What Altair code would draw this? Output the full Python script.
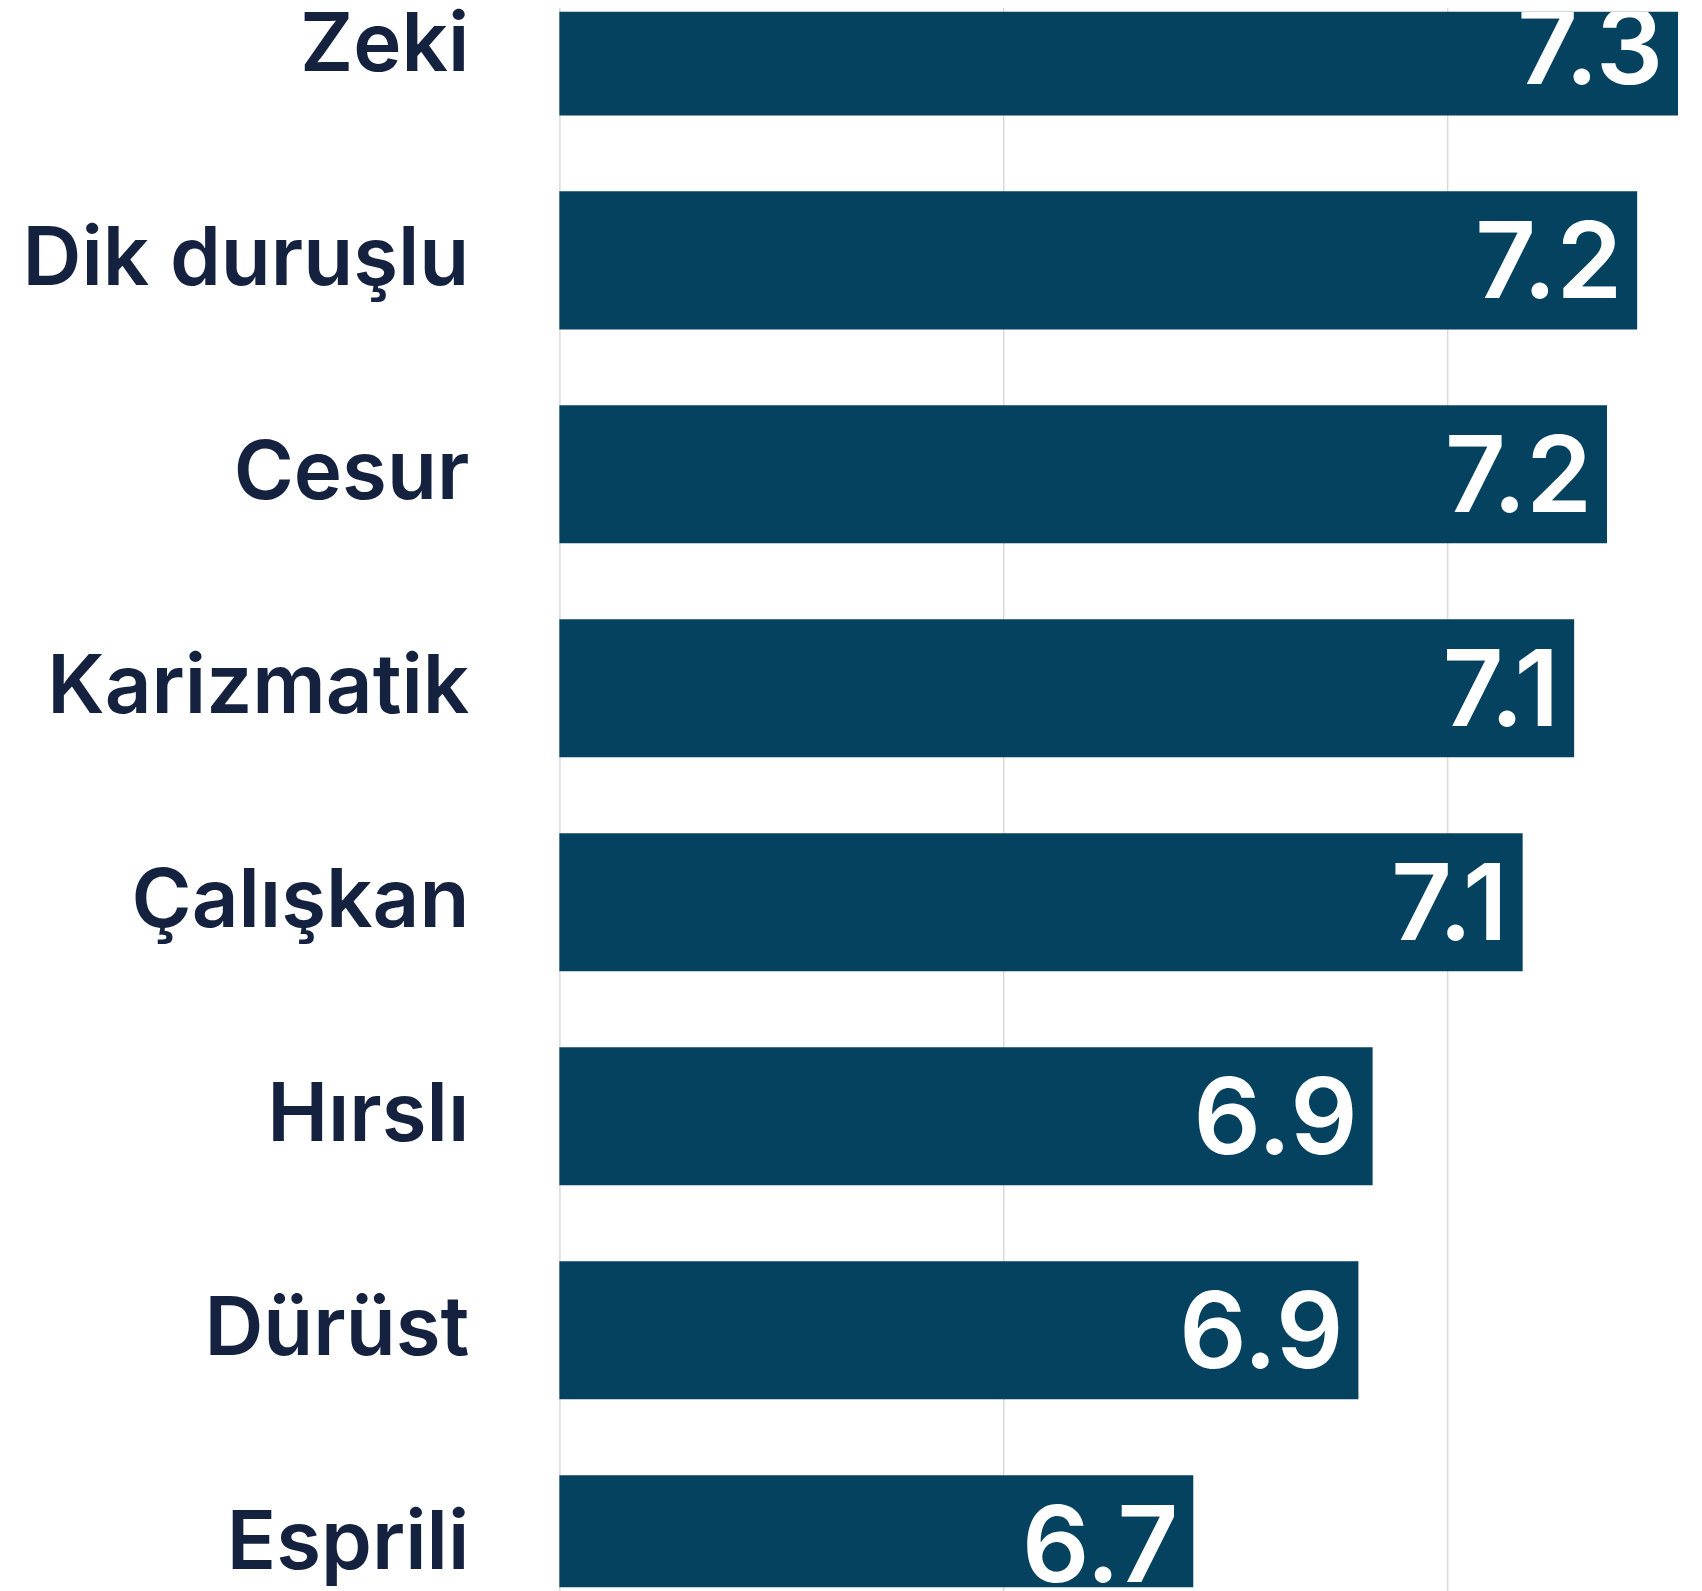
import altair as alt
import pandas as pd

categories = ["Zeki", "Dik duruşlu", "Cesur", "Karizmatik", "Çalışkan", "Hırslı", "Dürüst", "Esprili"]
values = [7.26, 7.214, 7.18, 7.143, 7.085, 6.916, 6.90, 6.714]
grid_values = [6.0, 6.5, 7.0, 7.5]

df = pd.DataFrame({"trait": categories, "score": values})

BAR = "#04425f"
LABEL = "#14213f"
FONT = "Inter"

x_enc = alt.X(
    "score:Q",
    scale=alt.Scale(domain=[6.0, 7.278], nice=False, zero=False),
    axis=alt.Axis(values=grid_values, labels=False, ticks=False, domain=False,
                  grid=True, gridColor="#dadada", gridWidth=1.5, title=None),
)
y_enc = alt.Y(
    "trait:N",
    sort=categories,
    scale=alt.Scale(range=[-34.6, 1609.1], paddingInner=0.3546, paddingOuter=0, round=False),
    axis=alt.Axis(title=None, ticks=False, domain=False, labelPadding=91,
                  labelFont=FONT, labelFontSize=82, labelFontWeight=600,
                  labelColor=LABEL, labelLimit=0, labelOverlap=False),
)

bars = alt.Chart(df).mark_bar(color=BAR, clip=True).encode(x=x_enc, y=y_enc)

texts = alt.Chart(df).mark_text(
    align="right", baseline="middle", dx=-15, dy=6, font=FONT, fontSize=106,
    fontWeight=600, color="white", clip=True,
).encode(
    x=alt.X("score:Q"),
    y=alt.Y("trait:N", sort=categories),
    text=alt.Text("score:Q", format=".1f"),
)

chart = alt.layer(bars, texts).properties(
    width=1140, height=1583,
    autosize=alt.AutoSizeParams(type="none"),
    padding={"left": 554, "top": 0, "right": 0, "bottom": 0},
).configure_view(stroke=None)

chart.save("out.html", embed_options={"renderer": "svg", "actions": False})
